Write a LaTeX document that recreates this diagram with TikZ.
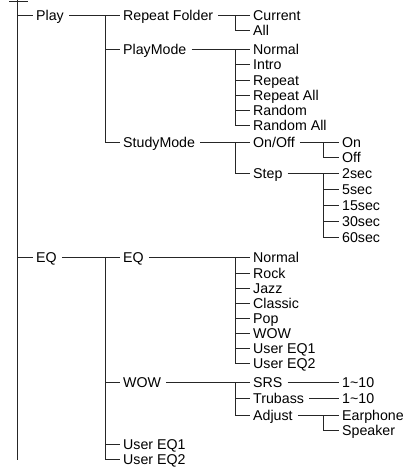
\documentclass[tikz,border=0pt]{standalone}
\usepackage{fontspec}
\setmainfont{Liberation Sans}
\begin{document}
\begin{tikzpicture}[x=1pt,y=-1pt,
  lbl/.style={anchor=west,inner sep=0pt,text height=10pt,text depth=0pt,font=\fontsize{14.2pt}{16pt}\selectfont},
  conn/.style={draw=black!85,line width=0.9pt}]
\useasboundingbox (0,0) rectangle (407,467);
% level 1
\node[lbl] (play) at (36,15.5) {Play};
\node[lbl] (eqa) at (36,257) {EQ};
% level 2
\node[lbl] (rf) at (123,15.5) {Repeat Folder};
\node[lbl] (pm) at (123,49) {PlayMode};
\node[lbl] (sm) at (123,142) {StudyMode};
\node[lbl] (eqb) at (123,257) {EQ};
\node[lbl] (wow) at (123,382) {WOW};
\node[lbl] (ua) at (123,444) {User EQ1};
\node[lbl] (ub) at (123,459.5) {User EQ2};
% level 3
\node[lbl] (cur) at (253,15.5) {Current};
\node[lbl] (all) at (253,30) {All};
\node[lbl] (na) at (253,49) {Normal};
\node[lbl] (intro) at (253,64) {Intro};
\node[lbl] (rep) at (253,80) {Repeat};
\node[lbl] (repall) at (253,95) {Repeat All};
\node[lbl] (rnd) at (253,110) {Random};
\node[lbl] (rndall) at (253,125) {Random All};
\node[lbl] (onoff) at (253,142) {On/Off};
\node[lbl] (stp) at (253,173) {Step};
\node[lbl] (nb) at (253,257) {Normal};
\node[lbl] (rock) at (253,273) {Rock};
\node[lbl] (jazz) at (253,288) {Jazz};
\node[lbl] (classic) at (253,303) {Classic};
\node[lbl] (pop) at (253,318) {Pop};
\node[lbl] (wowc) at (253,333) {WOW};
\node[lbl] (uc) at (253,348) {User EQ1};
\node[lbl] (ud) at (253,363) {User EQ2};
\node[lbl] (srs) at (253,382) {SRS};
\node[lbl] (tru) at (253,398) {Trubass};
\node[lbl] (adj) at (253,415) {Adjust};
% level 4
\node[lbl] (on) at (342,142) {On};
\node[lbl] (off) at (342,157) {Off};
\node[lbl] (sa) at (342,173) {2sec};
\node[lbl] (sb) at (342,189) {5sec};
\node[lbl] (sc) at (342,205) {15sec};
\node[lbl] (sd) at (342,221) {30sec};
\node[lbl] (se) at (342,237) {60sec};
\node[lbl] (srsv) at (342,382) {1\textasciitilde10};
\node[lbl] (truv) at (342,398) {1\textasciitilde10};
\node[lbl] (ear) at (342,415) {Earphone};
\node[lbl] (spk) at (342,430) {Speaker};
% vertical axes
\coordinate (top) at (17,0);
\coordinate (bot) at (17,460);
\coordinate (rootL) at (9,1);
\coordinate (rootR) at (28,1);
\coordinate (va) at (105,0);
\coordinate (vb) at (235,0);
\coordinate (vc) at (323,0);
\newcommand\tbr[2]{\draw[conn] (#1 |- #2.west) -- ([xshift=-3.5pt]#2.west);}
\newcommand\tpar[2]{\draw[conn] ([xshift=5pt]#1.east) -- ([xshift=-3.5pt]#2.west);}
\newcommand\tlast[3]{\draw[conn] (#1 |- #2.west) -- (#1 |- #3.west) -- ([xshift=-3.5pt]#3.west);}
% root
\draw[conn] (rootL) -- (rootR);
\draw[conn] (top) -- (bot);
\tbr{top}{play}
\tbr{top}{eqa}
% Play
\tpar{play}{rf}
\tlast{va}{rf}{sm}
\tbr{va}{pm}
% Repeat Folder
\tpar{rf}{cur}
\tlast{vb}{cur}{all}
% PlayMode
\tpar{pm}{na}
\tlast{vb}{na}{rndall}
\tbr{vb}{intro}
\tbr{vb}{rep}
\tbr{vb}{repall}
\tbr{vb}{rnd}
% StudyMode
\tpar{sm}{onoff}
\tlast{vb}{onoff}{stp}
\tpar{onoff}{on}
\tlast{vc}{on}{off}
\tpar{stp}{sa}
\tlast{vc}{sa}{se}
\tbr{vc}{sb}
\tbr{vc}{sc}
\tbr{vc}{sd}
% EQ
\tpar{eqa}{eqb}
\tlast{va}{eqb}{ub}
\tbr{va}{wow}
\tbr{va}{ua}
\tpar{eqb}{nb}
\tlast{vb}{nb}{ud}
\tbr{vb}{rock}
\tbr{vb}{jazz}
\tbr{vb}{classic}
\tbr{vb}{pop}
\tbr{vb}{wowc}
\tbr{vb}{uc}
% WOW
\tpar{wow}{srs}
\tlast{vb}{srs}{adj}
\tbr{vb}{tru}
\tpar{srs}{srsv}
\tpar{tru}{truv}
\tpar{adj}{ear}
\tlast{vc}{ear}{spk}
\end{tikzpicture}
\end{document}
